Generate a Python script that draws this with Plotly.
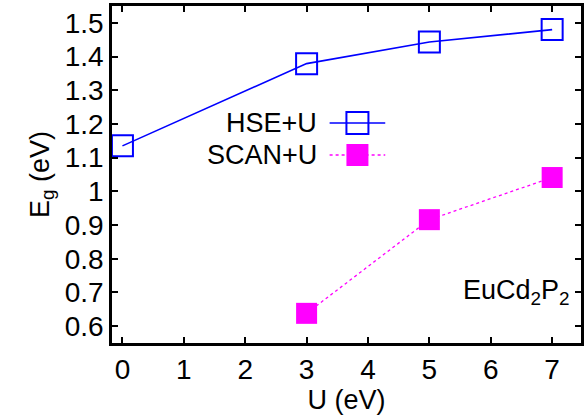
import plotly.graph_objects as go

u_hse = [0, 3, 5, 7]
eg_hse = [1.135, 1.379, 1.443, 1.480]
u_scan = [3, 5, 7]
eg_scan = [0.638, 0.916, 1.041]

x_ticks = [0, 1, 2, 3, 4, 5, 6, 7]
y_ticks = [0.6, 0.7, 0.8, 0.9, 1.0, 1.1, 1.2, 1.3, 1.4, 1.5]
y_ticktext = ["0.6", "0.7", "0.8", "0.9", "1", "1.1", "1.2", "1.3", "1.4", "1.5"]

FONT = "Liberation Sans, Arial, sans-serif"
FS = 28
FS_T = 27
BLUE = "#0000ff"
MAG = "#ff00ff"

fig = go.Figure()
fig.add_trace(go.Scatter(
    x=u_hse, y=eg_hse, mode="lines+markers", name="HSE+U",
    line=dict(color=BLUE, width=1.6),
    marker=dict(symbol="square-open", size=21, color=BLUE, line=dict(width=2, color=BLUE)),
    showlegend=False, cliponaxis=False))
fig.add_trace(go.Scatter(
    x=u_scan, y=eg_scan, mode="lines+markers", name="SCAN+U",
    line=dict(color=MAG, width=1.3, dash="dot"),
    marker=dict(symbol="square", size=21, color=MAG, line=dict(width=0)),
    showlegend=False, cliponaxis=False))

axis_common = dict(
    showline=True, linecolor="black", linewidth=2.5, mirror="ticks",
    ticks="inside", ticklen=6, tickwidth=1.5, tickcolor="black",
    showgrid=False, zeroline=False,
    tickfont=dict(family=FONT, size=FS, color="black"),
)

fig.update_xaxes(range=[-0.17, 7.47], tickvals=x_ticks,
                 title=dict(text="U (eV)", font=dict(family=FONT, size=FS_T, color="black"), standoff=1),
                 **axis_common)
fig.update_yaxes(range=[0.55, 1.55], tickvals=y_ticks, ticktext=y_ticktext,
                 title=dict(text="E<sub>g</sub> (eV)", font=dict(family=FONT, size=FS_T, color="black"), standoff=8),
                 **axis_common)

# manual legend (gnuplot style: text left of key)
legend_items = [("HSE+U", 0.6528, BLUE, "open"), ("SCAN+U", 0.5579, MAG, "filled")]
annotations = []
shapes = []
for label, yp, col, kind in legend_items:
    annotations.append(dict(text=label, xref="paper", yref="paper", x=0.442, y=yp,
                            xanchor="right", yanchor="middle", showarrow=False,
                            font=dict(family=FONT, size=FS_T, color="black")))
    shapes.append(dict(type="line", xref="paper", yref="paper", x0=0.464, x1=0.5826, y0=yp, y1=yp,
                       line=dict(color=col, width=1.6 if kind == "open" else 1.3,
                                 dash="solid" if kind == "open" else "dot")))
    shapes.append(dict(type="rect", xref="paper", yref="paper",
                       xsizemode="pixel", ysizemode="pixel",
                       xanchor=0.5233, yanchor=yp, x0=-11, x1=11, y0=-11, y1=11,
                       line=dict(color=col, width=2 if kind == "open" else 0),
                       fillcolor="rgba(0,0,0,0)" if kind == "open" else col))

annotations.append(dict(text="EuCd<sub>2</sub>P<sub>2</sub>", xref="paper", yref="paper",
                        x=0.98, y=0.151, xanchor="right", yanchor="middle", showarrow=False,
                        font=dict(family=FONT, size=FS_T, color="black")))

fig.update_layout(
    width=585, height=418,
    margin=dict(l=112, r=1, t=6, b=75),
    paper_bgcolor="white", plot_bgcolor="white",
    annotations=annotations, shapes=shapes,
    font=dict(family=FONT, color="black"),
)

fig.write_html("out.html", config={"displayModeBar": False},
               post_script="document.body.style.margin='0';document.body.style.overflow='hidden';")
